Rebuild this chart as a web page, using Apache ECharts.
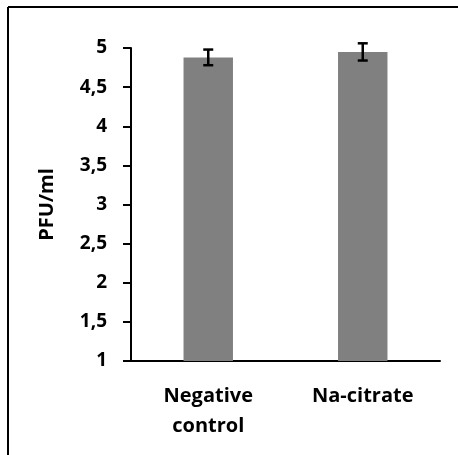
<!DOCTYPE html>
<html>
<head>
<meta charset="utf-8">
<script src="https://cdn.jsdelivr.net/npm/echarts@6/dist/echarts.min.js"></script>
<style>
    html, body { margin: 0; padding: 0; background: #fff; }
    #main { width: 458px; height: 455px; }
</style>
</head>
<body>
<div id="main"></div>
<script>
var categories = ['Negative\ncontrol', 'Na-citrate'];
var means = [4.88, 4.95];
var errors = [0.10, 0.11];
var yTicks = [1, 1.5, 2, 2.5, 3, 3.5, 4, 4.5, 5];

var font = '"Open Sans", "DejaVu Sans", sans-serif';
var myChart = echarts.init(document.getElementById('main'));

myChart.setOption({
    animation: false,
    backgroundColor: '#fff',
    grid: { left: 131, right: 18, top: 48, bottom: 94 },
    graphic: [
        // outer frame (top and left edges only visible)
        { type: 'line', shape: { x1: 8, y1: 7, x2: 458, y2: 7 }, style: { stroke: '#000', lineWidth: 2 } },
        { type: 'line', shape: { x1: 8, y1: 7, x2: 8, y2: 455 }, style: { stroke: '#000', lineWidth: 2 } }
    ],
    xAxis: {
        type: 'category',
        data: categories,
        axisLine: { lineStyle: { color: '#000', width: 2 } },
        axisTick: { show: false },
        axisLabel: {
            color: '#000', fontFamily: font, fontWeight: 'bold', fontSize: 20,
            lineHeight: 30, margin: 20
        }
    },
    yAxis: {
        type: 'value',
        min: yTicks[0],
        max: yTicks[yTicks.length - 1],
        interval: 0.5,
        name: 'PFU/ml',
        nameLocation: 'middle',
        nameRotate: 90,
        nameGap: 74,
        nameTextStyle: { color: '#000', fontFamily: font, fontWeight: 'bold', fontSize: 20 },
        splitLine: { show: false },
        axisLine: { show: true, lineStyle: { color: '#000', width: 2 } },
        axisTick: { show: true, length: 8, lineStyle: { color: '#000', width: 2 } },
        axisLabel: {
            color: '#000', fontFamily: font, fontWeight: 'bold', fontSize: 19, margin: 24,
            formatter: function (v) { return String(v).replace('.', ','); }
        }
    },
    series: [
        {
            type: 'bar',
            data: means,
            barWidth: '32%',
            itemStyle: { color: '#808080' }
        },
        {
            type: 'custom',
            data: means.map(function (m, i) { return [i, m - errors[i], m + errors[i]]; }),
            z: 10,
            renderItem: function (params, api) {
                var lo = api.coord([api.value(0), api.value(1)]);
                var hi = api.coord([api.value(0), api.value(2)]);
                var cap = 5;
                var st = { stroke: '#000', lineWidth: 2.5 };
                return {
                    type: 'group',
                    children: [
                        { type: 'line', shape: { x1: lo[0], y1: lo[1], x2: hi[0], y2: hi[1] }, style: st },
                        { type: 'line', shape: { x1: lo[0] - cap, y1: lo[1], x2: lo[0] + cap, y2: lo[1] }, style: st },
                        { type: 'line', shape: { x1: hi[0] - cap, y1: hi[1], x2: hi[0] + cap, y2: hi[1] }, style: st }
                    ]
                };
            }
        }
    ]
});
</script>
</body>
</html>
